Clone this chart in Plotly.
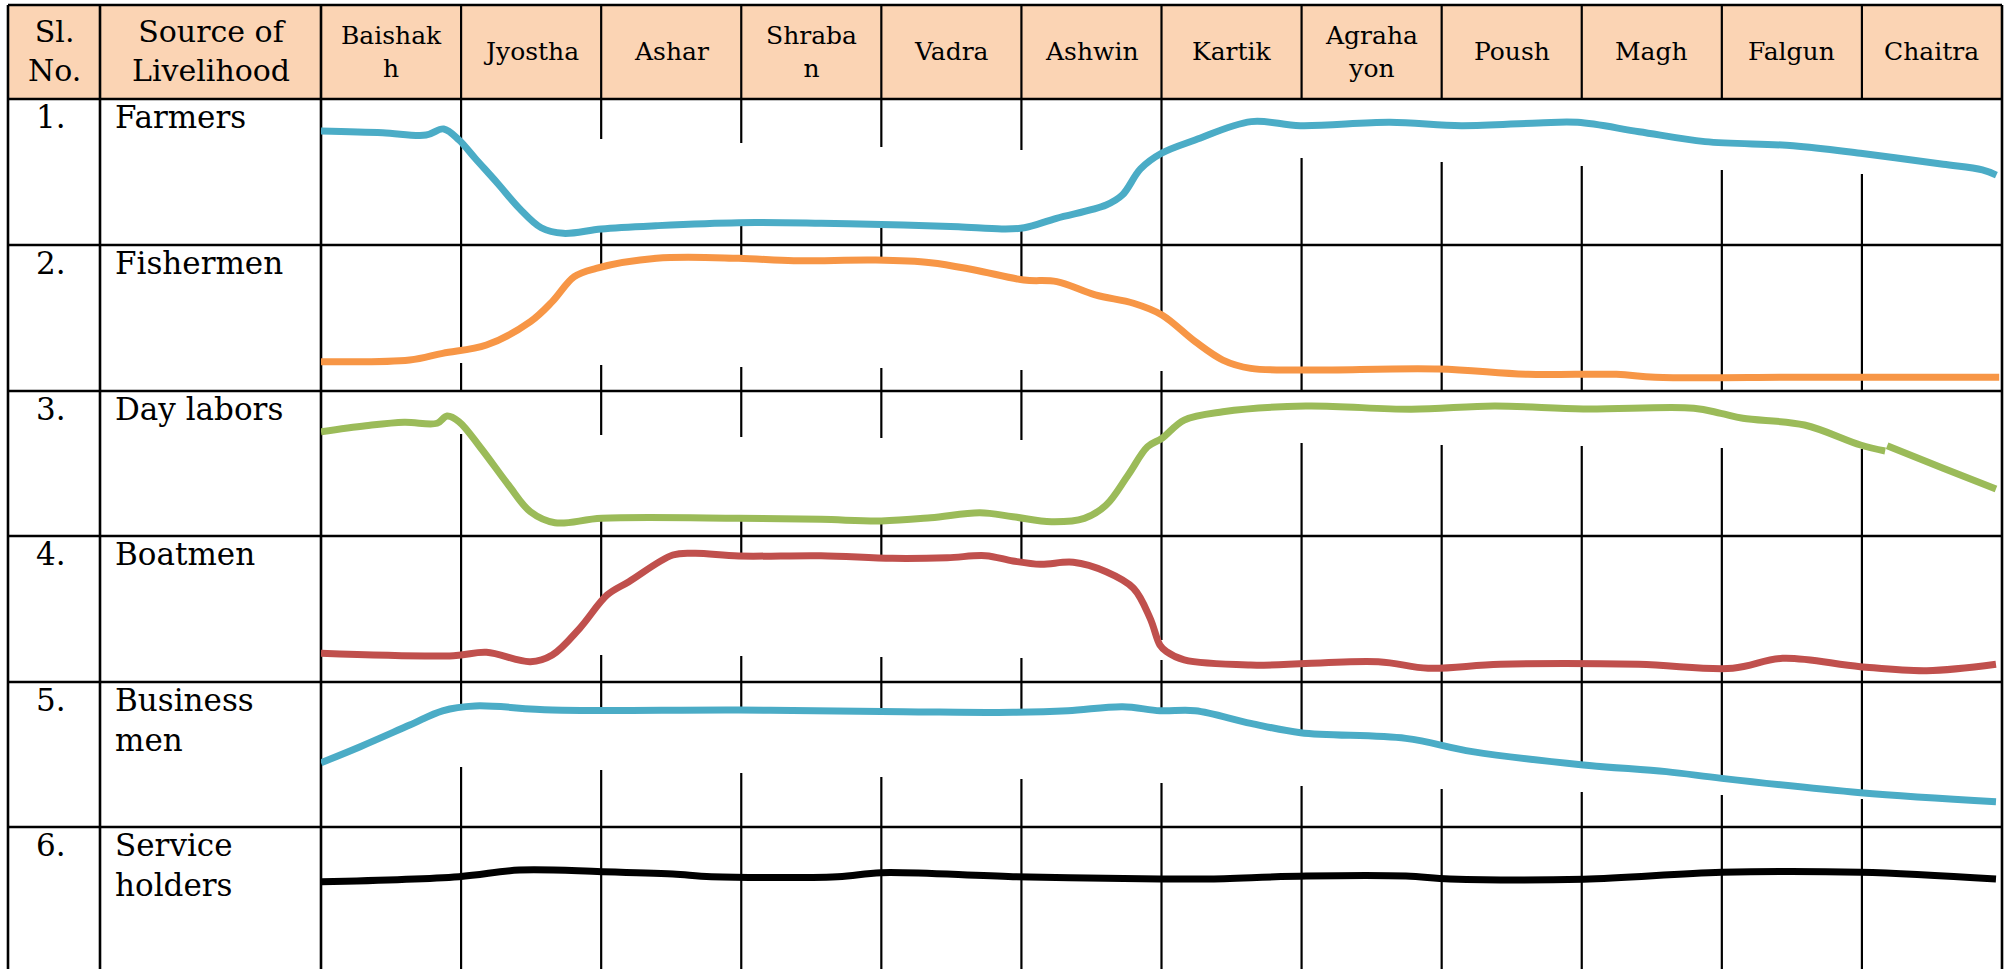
import plotly.graph_objects as go

W, H = 2009, 969

# ---------------- data ----------------
MONTHS = ["Baishak<br>h", "Jyostha", "Ashar", "Shraba<br>n", "Vadra", "Ashwin",
          "Kartik", "Agraha<br>yon", "Poush", "Magh", "Falgun", "Chaitra"]
SL_NO = ["1.", "2.", "3.", "4.", "5.", "6."]
SOURCES = ["Farmers", "Fishermen", "Day labors", "Boatmen", "Business<br>men", "Service<br>holders"]
HEADER_SL = "Sl.<br>No."
HEADER_SRC = "Source of<br>Livelihood"

# x: position in months (0 = start of Baishakh, 12 = end of Chaitra)
# y: activity level within the row (0 = row bottom, 100 = row top)
farmers_x = [0, 0.44, 0.75, 0.876, 0.985, 1.10, 1.26, 1.416, 1.572, 1.73, 2.0, 2.39, 2.98, 3.57,
             4.157, 4.55, 4.86, 5.02, 5.25, 5.605, 5.72, 5.85, 6.0, 6.24, 6.64, 6.99, 7.63, 8.14,
             8.69, 8.97, 9.41, 9.88, 10.51, 10.99, 11.58, 11.86, 11.96]
farmers_y = [78.1, 76.9, 75.3, 79.5, 71.9, 59.4, 42.3, 25.1, 11.8, 8.0, 11.0, 13.2, 15.3, 14.9,
             13.7, 12.5, 11.0, 11.8, 18.3, 27.4, 34.2, 52.1, 62.8, 71.9, 84.5, 81.7, 84.0, 81.7,
             83.6, 84.0, 77.6, 70.8, 68.0, 62.8, 55.3, 51.4, 47.9]

fishermen_x = [0, 0.633, 0.868, 1.181, 1.495, 1.651, 1.808, 1.964, 2.395, 2.982, 3.374, 3.961,
               4.353, 4.666, 5.018, 5.253, 5.527, 5.80, 6.003, 6.241, 6.438, 6.637, 7.03, 7.98,
               8.615, 9.248, 9.525, 10.59, 11.98]
fishermen_y = [20.1, 21.2, 25.8, 31.5, 47.5, 61.2, 78.3, 84.0, 90.9, 90.9, 89.2, 89.7,
               87.9, 82.9, 76.0, 74.9, 65.8, 60.1, 52.1, 33.8, 21.2, 15.5, 14.4, 15.1,
               11.4, 11.4, 9.4, 9.4, 9.4]

daylabor_x = [0, 0.32, 0.594, 0.829, 0.9, 0.985, 1.142, 1.338, 1.495, 1.67, 2.004, 2.982, 3.569,
              4.0, 4.353, 4.704, 4.94, 5.214, 5.449, 5.605, 5.762, 5.9, 6.003, 6.162, 6.438,
              7.03, 7.784, 8.377, 9.011, 9.80, 9.993, 10.15, 10.59, 10.99, 11.166, None,
              11.18, 11.58, 11.957]
daylabor_y = [72.1, 76.2, 78.6, 77.9, 82.9, 79.0, 60.8, 35.6, 17.3, 9.8, 12.8, 12.8, 12.1,
              11.0, 13.2, 16.6, 13.9, 10.5, 12.8, 21.9, 42.5, 61.8, 67.6, 80.1, 85.8,
              89.7, 87.5, 89.7, 87.7, 88.2, 84.7, 81.3, 76.7, 63.0, 58.9, None,
              62.5, 47.1, 32.9]

boatmen_x = [0, 0.946, 1.181, 1.495, 1.651, 1.847, 2.043, 2.198, 2.512, 2.669, 2.982, 3.569,
             4.079, 4.47, 4.744, 4.94, 5.136, 5.37, 5.605, 5.80, 5.919, 5.989, 6.036, 6.162,
             6.637, 7.547, 7.903, 8.417, 9.406, 10.078, 10.434, 10.988, 11.463, 11.957]
boatmen_y = [19.7, 18.0, 20.3, 13.9, 18.5, 36.8, 59.6, 68.7, 87.0, 88.2, 86.3, 86.5,
             84.7, 85.1, 86.5, 82.9, 80.6, 82.0, 75.5, 64.2, 43.6, 25.3, 20.8, 15.1,
             11.6, 13.9, 9.4, 12.1, 12.1, 9.4, 16.2, 10.5, 7.7, 12.1]

business_x = [0, 0.28, 0.633, 0.868, 1.10, 1.651, 2.982, 4.157, 4.94, 5.332, 5.723, 5.989,
              6.241, 6.637, 6.993, 7.744, 8.219, 9.011, 9.604, 10.0, 10.99, 11.957]
business_y = [44.7, 55.7, 70.5, 80.3, 83.6, 80.8, 80.8, 79.7, 79.2, 80.3, 83.1, 80.3,
              80.3, 71.7, 65.3, 61.4, 52.3, 43.2, 38.6, 34.0, 24.2, 18.0]

service_x = [0, 0.985, 1.416, 2.004, 2.512, 2.787, 3.687, 4.0, 4.94, 5.989, 6.32, 7.033,
             7.745, 8.06, 9.011, 9.999, 10.99, 11.957]
service_y = [62.5, 66.0, 70.5, 69.4, 67.8, 66.0, 66.0, 68.7, 66.0, 64.4, 64.4, 66.4,
             66.4, 64.4, 64.2, 69.0, 69.0, 64.4]

SERIES_X = [farmers_x, fishermen_x, daylabor_x, boatmen_x, business_x, service_x]
SERIES_Y = [farmers_y, fishermen_y, daylabor_y, boatmen_y, business_y, service_y]

# ---------------- layout / style ----------------
COLORS = ["#4BACC6", "#F79646", "#9BBB59", "#C0504D", "#4BACC6", "#000000"]
HEADER_FILL = "#FBD4B4"
FONT = "DejaVu Serif"

TABLE_L, TABLE_R, TABLE_T = 8, 2002, 5
COL_SL, COL_SRC = 100, 321
HEADER_B = 99
ROW_TOPS = [99, 245, 391, 536, 682, 827]
ROW_H = 146

# hidden parts of the month separators (offsets in px from row top), per row and boundary
GRID_GAPS = {
    0: {2: (40, 128), 3: (44, 122), 4: (48, 124), 5: (51, 127),
        7: (0, 59), 8: (0, 63), 9: (0, 67), 10: (0, 71), 11: (0, 75)},
    1: {1: (105, 118), 2: (23, 120), 3: (14, 122), 4: (15, 123), 5: (35, 125), 6: (70, 126)},
    2: {1: (0, 43), 2: (44, 126), 3: (46, 126), 4: (47, 129), 5: (49, 127),
        7: (0, 52), 8: (0, 54), 9: (0, 55), 10: (0, 57), 11: (0, 58)},
    3: {2: (62, 119), 3: (20, 120), 4: (22, 121), 5: (29, 122), 6: (104, 124)},
    4: {1: (24, 85), 2: (28, 88), 3: (28, 91), 4: (30, 95), 5: (30, 97), 6: (29, 101),
        7: (51, 104), 8: (63, 107), 9: (83, 110), 10: (96, 113), 11: (110, 117)},
}


def px(x):
    return x / W


def py(y):
    return 1 - y / H


fig = go.Figure()

layout_axes = {}
layout_axes["xaxis"] = dict(domain=[px(COL_SRC), px(TABLE_R)], range=[0, 12], visible=False,
                            fixedrange=True)
for i, top in enumerate(ROW_TOPS):
    bottom = top + ROW_H
    lo = min(bottom, H)
    r0 = (bottom - lo) / ROW_H * 100
    key = "yaxis" if i == 0 else f"yaxis{i + 1}"
    layout_axes[key] = dict(domain=[py(lo), py(top)], range=[r0, 100], visible=False,
                            anchor="x", fixedrange=True)

for i in range(6):
    fig.add_trace(go.Scatter(
        x=SERIES_X[i], y=SERIES_Y[i], mode="lines",
        line=dict(color=COLORS[i], width=7, shape="spline", smoothing=1.0),
        connectgaps=False, hoverinfo="skip",
        xaxis="x", yaxis="y" if i == 0 else f"y{i + 1}",
    ))

shapes = []
# header fill
shapes.append(dict(type="rect", xref="paper", yref="paper", x0=px(TABLE_L), x1=px(TABLE_R),
                   y0=py(HEADER_B), y1=py(TABLE_T), fillcolor=HEADER_FILL, line=dict(width=0),
                   layer="below"))


def hline(y, w=2.6):
    return dict(type="line", xref="paper", yref="paper", x0=px(TABLE_L), x1=px(TABLE_R),
                y0=py(y), y1=py(y), line=dict(color="black", width=w), layer="below")


def vline_px(x, y0, y1, w=2.6):
    return dict(type="line", xref="paper", yref="paper", x0=px(x), x1=px(x),
                y0=py(y0), y1=py(y1), line=dict(color="black", width=w), layer="below")


def vline_m(m, y0, y1, w=2.2):
    return dict(type="line", xref="x", yref="paper", x0=m, x1=m,
                y0=py(y0), y1=py(y1), line=dict(color="black", width=w), layer="below")


for y in [TABLE_T] + ROW_TOPS:
    shapes.append(hline(y))
for x in [TABLE_L, COL_SL, COL_SRC, TABLE_R]:
    shapes.append(vline_px(x, TABLE_T, H))
# month separators
for b in range(1, 12):
    shapes.append(vline_m(b, TABLE_T, HEADER_B))
    for r, top in enumerate(ROW_TOPS):
        bottom = min(top + ROW_H, H)
        gap = GRID_GAPS.get(r, {}).get(b)
        if gap is None:
            shapes.append(vline_m(b, top, bottom))
        else:
            g0, g1 = gap
            if g0 > 0:
                shapes.append(vline_m(b, top, top + g0))
            if top + g1 < bottom:
                shapes.append(vline_m(b, top + g1, bottom))

annotations = []
annotations.append(dict(text=HEADER_SL, xref="paper", yref="paper", x=px((TABLE_L + COL_SL) / 2),
                        y=py(51), xanchor="center", yanchor="middle", showarrow=False,
                        font=dict(family=FONT, size=30, color="black")))
annotations.append(dict(text=HEADER_SRC, xref="paper", yref="paper", x=px((COL_SL + COL_SRC) / 2),
                        y=py(51), xanchor="center", yanchor="middle", showarrow=False,
                        font=dict(family=FONT, size=30, color="black")))
for j, m in enumerate(MONTHS):
    annotations.append(dict(text=m, xref="x", yref="paper", x=j + 0.5, y=py(52),
                            xanchor="center", yanchor="middle", showarrow=False,
                            font=dict(family=FONT, size=25, color="black")))
for i, top in enumerate(ROW_TOPS):
    annotations.append(dict(text=SL_NO[i], xref="paper", yref="paper", x=px(34), y=py(top - 2),
                            xanchor="left", yanchor="top", showarrow=False, align="left",
                            font=dict(family=FONT, size=31, color="black")))
    annotations.append(dict(text=SOURCES[i], xref="paper", yref="paper", x=px(113), y=py(top - 2),
                            xanchor="left", yanchor="top", showarrow=False, align="left",
                            font=dict(family=FONT, size=31, color="black")))

fig.update_layout(
    width=W, height=H, margin=dict(l=0, r=0, t=0, b=0),
    paper_bgcolor="white", plot_bgcolor="rgba(0,0,0,0)",
    showlegend=False, shapes=shapes, annotations=annotations,
    **layout_axes,
)

fig.write_html("out.html", config={"displayModeBar": False},
               post_script="document.body.style.margin='0';document.body.style.overflow='hidden';")
